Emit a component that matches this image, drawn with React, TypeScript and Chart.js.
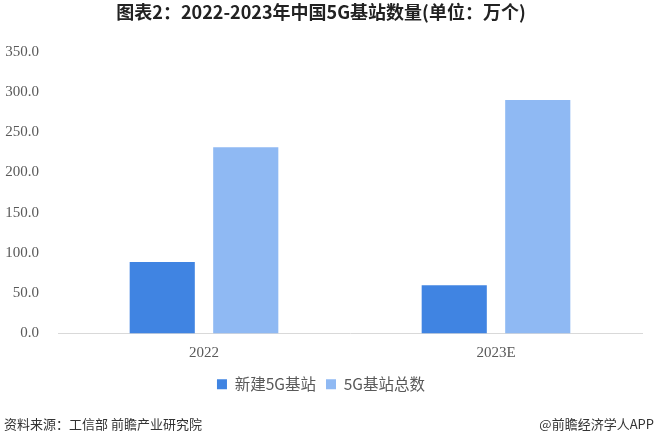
import React, { useEffect, useRef } from "react";
import { Chart, registerables } from "chart.js";

Chart.register(...registerables);

const categories = ["2022", "2023E"];
const newStations = [88.7, 60];
const totalStations = [231.2, 290];
const seriesNames = ["新建5G基站", "5G基站总数"];
const titleText = "图表2：2022-2023年中国5G基站数量(单位：万个)";
const sourceText = "资料来源：工信部 前瞻产业研究院";
const brandText = "@前瞻经济学人APP";

const sans = "'Noto Sans CJK SC', 'Noto Sans', sans-serif";
const serif = "'Liberation Serif', 'DejaVu Serif', serif";

const footerPlugin = {
  id: "footerText",
  afterDraw(chart: Chart) {
    const { ctx, width, height } = chart;
    ctx.save();
    ctx.font = `13px ${sans}`;
    ctx.fillStyle = "#333333";
    ctx.textBaseline = "middle";
    ctx.textAlign = "left";
    ctx.fillText(sourceText, 4, height - 20);
    ctx.textAlign = "right";
    ctx.fillText(brandText, width - 13, height - 20);
    ctx.restore();
  },
};

export default function App() {
  const ref = useRef<HTMLCanvasElement>(null);

  useEffect(() => {
    document.body.style.margin = "0";
    const chart = new Chart(ref.current!, {
      type: "bar",
      data: {
        labels: categories,
        datasets: [
          {
            label: seriesNames[0],
            data: newStations,
            backgroundColor: "#4084e2",
            categoryPercentage: 0.572,
            barPercentage: 0.78,
          },
          {
            label: seriesNames[1],
            data: totalStations,
            backgroundColor: "#8fb9f3",
            categoryPercentage: 0.572,
            barPercentage: 0.78,
          },
        ],
      },
      options: {
        animation: false,
        responsive: false,
        layout: { padding: { top: 0, right: 25, bottom: 42, left: 0 } },
        plugins: {
          title: {
            display: true,
            text: titleText,
            color: "#222222",
            font: { family: sans, size: 18, weight: "bold" },
            padding: { top: 1, bottom: 29 },
          },
          legend: {
            position: "bottom",
            labels: {
              boxWidth: 10,
              boxHeight: 10,
              color: "#595959",
              font: { family: sans, size: 15.5 },
              padding: 10,
            },
          },
          tooltip: { enabled: false },
        },
        scales: {
          x: {
            grid: { display: false },
            border: { color: "#d9d9d9" },
            ticks: { color: "#595959", font: { family: serif, size: 15 }, padding: 3 },
            afterFit: (s: any) => {
              s.height = 33;
            },
          },
          y: {
            min: 0,
            max: 350,
            grid: { display: false },
            border: { display: false },
            ticks: {
              stepSize: 50,
              color: "#595959",
              font: { family: serif, size: 15 },
              padding: 11,
              callback: (v: any) => Number(v).toFixed(1),
            },
            afterFit: (s: any) => {
              s.width = 58;
            },
          },
        },
      },
      plugins: [footerPlugin],
    });
    return () => chart.destroy();
  }, []);

  return (
    <div style={{ width: 667, height: 444, background: "#ffffff" }}>
      <canvas ref={ref} width={667} height={444} style={{ display: "block" }} />
    </div>
  );
}
